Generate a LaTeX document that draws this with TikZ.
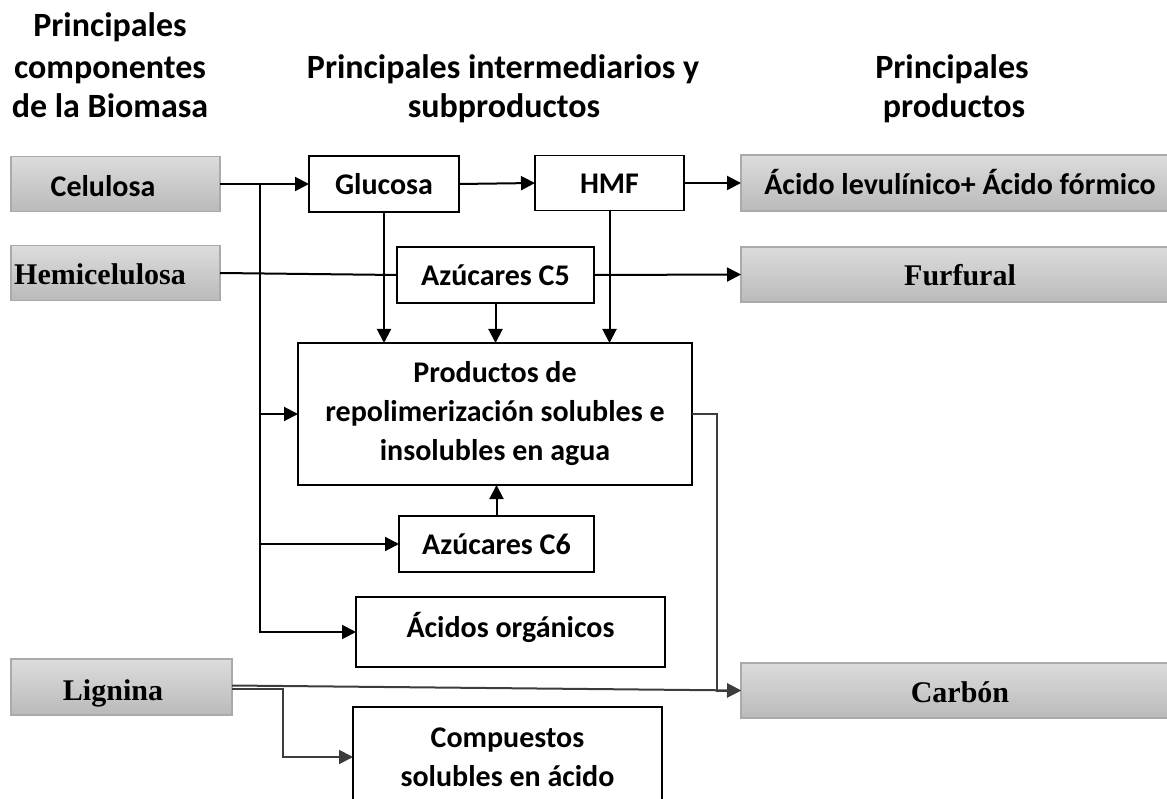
\documentclass[tikz,border=0pt]{standalone}
\usepackage{fontspec}
\setmainfont{Carlito}
\newfontfamily\tnr{Liberation Serif}
\usetikzlibrary{arrows.meta}
\definecolor{boxtop}{RGB}{220,220,220}
\definecolor{boxbot}{RGB}{186,186,186}
\definecolor{boxedge}{RGB}{170,170,170}
\definecolor{wire}{RGB}{60,60,60}

\begin{document}
\begin{tikzpicture}[x=1pt,y=-1pt,
  every node/.style={inner sep=0pt, outer sep=0pt},
  src/.style={draw=boxedge, line width=1.6pt, top color=boxtop, bottom color=boxbot, rectangle},
  mid/.style={draw=black, line width=1.8pt, fill=white, rectangle,
              font=\fontsize{30}{39}\selectfont\bfseries},
  oneline/.style={mid, text height=21pt, text depth=0pt},
  sanslbl/.style={font=\fontsize{30}{36}\selectfont\bfseries, anchor=base},
  seriflbl/.style={font=\fontsize{30}{36}\selectfont\tnr\bfseries, anchor=base},
  head/.style={font=\fontsize{34}{40}\selectfont\bfseries, anchor=base},
  conn/.style={line width=2pt, draw=black},
  arr/.style={conn, -{Triangle[length=14pt,width=14pt]}},
]
\useasboundingbox (0,0) rectangle (1167,799);

% column headings
\node[head] (hl1) at (110,37)  {Principales};
\node[head] (hl2) at (110,79)  {componentes};
\node[head] (hl3) at (110,118) {de la Biomasa};
\node[head] (hm1) at (503,79)  {Principales intermediarios y};
\node[head] (hm2) at (504,118) {subproductos};
\node[head] (hr1) at (952,79)  {Principales};
\node[head] (hr2) at (954,118) {productos};

% biomass components
\node[src, minimum width=209pt, minimum height=55pt] (cel)  at (115.5,184)   {};
\node[src, minimum width=209pt, minimum height=55pt] (hemi) at (115.5,273)   {};
\node[src, minimum width=221pt, minimum height=56pt] (lig)  at (121.5,687)   {};
\node[sanslbl]  (celt)  at (103,197) {Celulosa};
\node[seriflbl] (hemit) at (100,285) {Hemicelulosa};
\node[seriflbl] (ligt)  at (113,700) {Lignina};

% main products
\node[src, minimum width=434pt, minimum height=56pt] (acl)  at (958,183)   {};
\node[src, minimum width=434pt, minimum height=55pt] (fur)  at (958,274.5) {};
\node[src, minimum width=434pt, minimum height=55pt] (carb) at (958,690.5) {};
\node[sanslbl]  (aclt)  at (960,195) {Ácido levulínico+ Ácido fórmico};
\node[seriflbl] (furt)  at (960,286) {Furfural};
\node[seriflbl] (carbt) at (960,702) {Carbón};

% intermediates and by-products
\node[oneline, minimum width=150pt, minimum height=56pt] (glu)  at (384,184)   {Glucosa};
\node[oneline, minimum width=149pt, minimum height=55pt] (hmf)  at (609.5,183) {HMF};
\node[oneline, minimum width=197pt, minimum height=56pt] (c5)   at (495.5,275) {Azúcares C5};
\node[mid, minimum width=394pt, minimum height=142pt, align=center]
     (prod) at (495,414) {Productos de\\repolimerización solubles e\\insolubles en agua};
\node[oneline, minimum width=195pt, minimum height=56pt] (c6)   at (496.5,544) {Azúcares C6};
\node[oneline, minimum width=309pt, minimum height=70pt, text height=11pt] (aco) at (510.5,632) {Ácidos orgánicos};
\node[mid, minimum width=309pt, minimum height=100pt, align=center]
     (comp) at (507.5,757) {Compuestos\\solubles en ácido};

% connectors
\coordinate (ct) at ([xshift=40pt]cel.east);
\draw[arr] (cel.east) -- (glu.west);
\draw[arr] (ct) |- (aco.west);
\draw[arr] (ct |- prod.west) -- (prod.west);
\draw[arr] (ct |- c6.west) -- (c6.west);
\draw[conn] (hemi.east) -- (c5.west);
\draw[arr] (glu.east) -- (hmf.west);
\draw[arr] (hmf.east) -- (acl.west);
\draw[arr] (c5.east) -- (fur.west);
\draw[arr] (glu.south) -- (glu.south |- prod.north);
\draw[arr] (c5.south) -- (c5.south |- prod.north);
\draw[arr] (hmf.south) -- (hmf.south |- prod.north);
\draw[arr] (c6.north) -- (c6.north |- prod.south);

\coordinate (cr) at ([xshift=25pt]prod.east);
\draw[arr, draw=wire] (prod.east) -- (cr) |- (carb.west);

\coordinate (lb) at ([xshift=51pt]lig.east);
\draw[arr, draw=wire] ([yshift=1.5pt]lig.east) -- (carb.west);
\draw[arr, draw=wire] ([yshift=-1.5pt]lig.east) -| (lb |- comp.west) -- (comp.west);
\end{tikzpicture}
\end{document}
